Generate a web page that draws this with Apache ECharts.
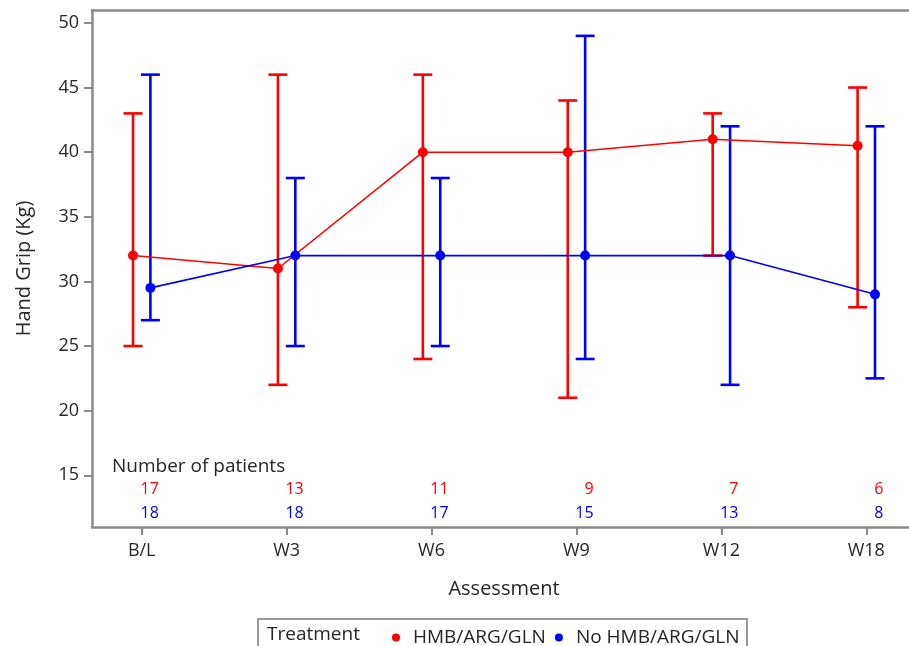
<!DOCTYPE html>
<html>
<head>
<meta charset="utf-8">
<script src="https://cdn.jsdelivr.net/npm/echarts@6/dist/echarts.min.js"></script>
<style>html,body{margin:0;padding:0;background:#fff}#c{width:909px;height:646px}</style>
</head>
<body>
<div id="c"></div>
<script>
const categories = ['B/L', 'W3', 'W6', 'W9', 'W12', 'W18'];
const yTicks = [15, 20, 25, 30, 35, 40, 45, 50];
const redName = 'HMB/ARG/GLN';
const blueName = 'No HMB/ARG/GLN';
const redMean = [32, 31, 40, 40, 41, 40.5];
const redLow  = [25, 22, 24, 21, 32, 28];
const redHigh = [43, 46, 46, 44, 43, 45];
const blueMean = [29.5, 32, 32, 32, 32, 29];
const blueLow  = [27, 25, 25, 24, 22, 22.5];
const blueHigh = [46, 38, 38, 49, 42, 42];
const redN  = [17, 13, 11, 9, 7, 6];
const blueN = [18, 18, 17, 15, 13, 8];

const RED = '#ff0000', BLUE = '#0000ff', AXIS = '#8a8a8a', TXT = '#262626';
const FONT = 'Open Sans';
const OFF = 0.06;
const idx = categories.map((c, i) => i);

function errBars(name, color, offset, low, high) {
  return {
    type: 'custom', name: name, z: 3,
    itemStyle: { color: color },
    data: idx.map(i => [i + offset, low[i], high[i]]),
    renderItem: function (params, api) {
      const x = api.value(0);
      const lo = api.coord([x, api.value(1)]);
      const hi = api.coord([x, api.value(2)]);
      const w = 9.5;
      const st = { stroke: color, lineWidth: 2.6 };
      return { type: 'group', children: [
        { type: 'line', shape: { x1: lo[0], y1: lo[1], x2: hi[0], y2: hi[1] }, style: st },
        { type: 'line', shape: { x1: hi[0] - w, y1: hi[1], x2: hi[0] + w, y2: hi[1] }, style: st },
        { type: 'line', shape: { x1: lo[0] - w, y1: lo[1], x2: lo[0] + w, y2: lo[1] }, style: st }
      ]};
    }
  };
}
function meanLine(name, color, offset, mean) {
  return {
    type: 'line', name: name, z: 4,
    data: idx.map(i => [i + offset, mean[i]]),
    symbol: 'circle', symbolSize: 10, showSymbol: true,
    itemStyle: { color: color },
    lineStyle: { color: color, width: 1.6 },
    emphasis: { disabled: true }
  };
}
function countText(color, yPos, counts) {
  return {
    type: 'custom', silent: true, z: 5, legendHoverLink: false,
    data: idx.map(i => [i + 0.118, yPos, counts[i]]),
    renderItem: function (params, api) {
      const p = api.coord([api.value(0), api.value(1)]);
      return { type: 'text', x: p[0], y: p[1], style: {
        text: String(api.value(2)), fill: color, align: 'right', verticalAlign: 'middle',
        font: '16px "' + FONT + '"' } };
    }
  };
}

const chart = echarts.init(document.getElementById('c'), null, { renderer: 'canvas' });
chart.setOption({
  animation: false,
  backgroundColor: '#fff',
  textStyle: { fontFamily: FONT, color: TXT },
  grid: { left: 92, top: 10, right: -7, bottom: 119, outerBoundsMode: 'none', containLabel: false },
  xAxis: [{
    type: 'value', min: -0.343, max: 5.343,
    name: 'Assessment', nameLocation: 'middle', nameGap: 52,
    nameTextStyle: { fontSize: 20, color: TXT, fontFamily: FONT },
    splitLine: { show: false },
    axisLine: { show: true, onZero: false, lineStyle: { color: AXIS, width: 2.5 } },
    axisTick: { show: true, customValues: idx, length: 8, lineStyle: { color: AXIS, width: 2 } },
    axisLabel: { customValues: idx, margin: 15, fontSize: 18, color: TXT, fontFamily: FONT,
      formatter: v => categories[Math.round(v)] }
  }, {
    type: 'value', position: 'top', min: -0.343, max: 5.343,
    splitLine: { show: false }, axisTick: { show: false }, axisLabel: { show: false },
    axisLine: { show: true, onZero: false, lineStyle: { color: AXIS, width: 2.5 } }
  }],
  yAxis: {
    type: 'value', min: 11, max: 51,
    name: 'Hand Grip (Kg)', nameLocation: 'middle', nameGap: 58,
    nameTextStyle: { fontSize: 20, color: TXT, fontFamily: FONT },
    splitLine: { show: false },
    axisLine: { show: true, onZero: false, lineStyle: { color: AXIS, width: 2.5 } },
    axisTick: { show: true, customValues: yTicks, length: 8, lineStyle: { color: AXIS, width: 2 } },
    axisLabel: { customValues: yTicks, margin: 13, fontSize: 18, color: TXT, fontFamily: FONT }
  },
  legend: {
    data: [redName, blueName], left: 387, top: 623, icon: 'circle',
    itemWidth: 24, itemHeight: 8, itemGap: 9,
    textStyle: { fontSize: 19, color: TXT, fontFamily: FONT },
    selectedMode: false
  },
  graphic: [
    { type: 'rect', shape: { x: 258, y: 619, width: 489, height: 40 }, style: { fill: 'none', stroke: '#999', lineWidth: 2 } },
    { type: 'text', x: 267, y: 635, style: { text: 'Treatment', fill: TXT, font: '19px "' + FONT + '"', verticalAlign: 'middle' } },
    { type: 'text', x: 112, y: 467, style: { text: 'Number of patients', fill: TXT, font: '19px "' + FONT + '"', verticalAlign: 'middle' } }
  ],
  series: [
    meanLine(redName, RED, -OFF, redMean),
    meanLine(blueName, BLUE, OFF, blueMean),
    errBars(redName, RED, -OFF, redLow, redHigh),
    errBars(blueName, BLUE, OFF, blueLow, blueHigh),
    countText(RED, 13.94, redN),
    countText(BLUE, 12.08, blueN)
  ]
});
</script>
</body>
</html>
